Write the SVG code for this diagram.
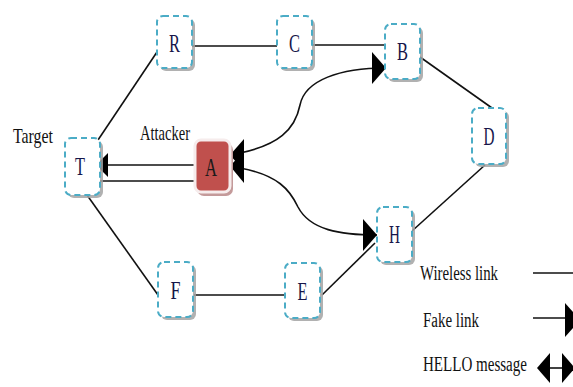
<svg xmlns="http://www.w3.org/2000/svg" width="573" height="387" viewBox="0 0 573 387">
<style>
.shadow{fill:#a3a3a3;opacity:0.85}
.node{fill:#ffffff;stroke:#4bacc6;stroke-width:2;stroke-dasharray:6 4}
.anode{fill:#c0504d;stroke:#f6ecec;stroke-width:3}
.ashadow{fill:#c49a9a}
.lbl{font-family:"Liberation Serif",serif;font-size:26px;fill:#16164a;text-anchor:middle}
.txt{font-family:"Liberation Serif",serif;font-size:22px;fill:#111111}
.leg{font-family:"Liberation Serif",serif;font-size:20px;fill:#111111}
.link{stroke:#111111;stroke-width:1.6;fill:none}
.ah{fill:#000000}
</style>
<defs>
<marker id="arr" markerUnits="userSpaceOnUse" markerWidth="14" markerHeight="32" refX="14" refY="16" orient="auto" viewBox="0 0 14 32">
<path d="M0,0 L14,16 L0,32 Z" fill="#000"/>
</marker>
<marker id="arrS" markerUnits="userSpaceOnUse" markerWidth="12" markerHeight="24" refX="12" refY="12" orient="auto" viewBox="0 0 12 24">
<path d="M0,0 L12,12 L0,24 Z" fill="#000"/>
</marker>
</defs>

<g id="connectors">
<line class="link" x1="98" y1="140" x2="157" y2="52"/>
<line class="link" x1="192" y1="46" x2="277" y2="46"/>
<line class="link" x1="312" y1="45" x2="385" y2="45"/>
<line class="link" x1="420" y1="57" x2="492" y2="108"/>
<line class="link" x1="485" y1="165" x2="412" y2="231"/>
<line class="link" x1="322" y1="295" x2="375" y2="243"/>
<line class="link" x1="194" y1="295" x2="285" y2="295"/>
<line class="link" x1="87" y1="195" x2="158" y2="295"/>
<line class="link" x1="195" y1="165" x2="96" y2="165" marker-end="url(#arrS)"/>
<line class="link" x1="195" y1="181" x2="100" y2="181"/>
<path class="link" d="M240,153 C278,145 295,130 300,105 C305,80 340,68 386,68" marker-end="url(#arr)"/>
<path class="link" d="M240,168 C278,175 290,190 298,207 C310,230 340,235 377,235" marker-end="url(#arr)"/>
<polygon class="ah" points="230,155 244,139 244,171"/>
<polygon class="ah" points="230,166 244,151 244,183"/>
</g>

<g id="R"><rect class="shadow" x="160" y="19" width="35" height="52" rx="6"/><rect class="node" x="157" y="16" width="35" height="52" rx="6"/><text class="lbl" x="174.5" y="52" textLength="11" lengthAdjust="spacingAndGlyphs">R</text></g>
<g id="C"><rect class="shadow" x="280" y="19" width="35" height="52" rx="6"/><rect class="node" x="277" y="16" width="35" height="52" rx="6"/><text class="lbl" x="294.5" y="52" textLength="11" lengthAdjust="spacingAndGlyphs">C</text></g>
<g id="B"><rect class="shadow" x="388" y="27" width="35" height="55" rx="6"/><rect class="node" x="385" y="24" width="35" height="55" rx="6"/><text class="lbl" x="402.5" y="60" textLength="11" lengthAdjust="spacingAndGlyphs">B</text></g>
<g id="D"><rect class="shadow" x="475" y="111" width="34" height="56" rx="6"/><rect class="node" x="472" y="108" width="34" height="56" rx="6"/><text class="lbl" x="489" y="145" textLength="11" lengthAdjust="spacingAndGlyphs">D</text></g>
<g id="H"><rect class="shadow" x="380" y="210" width="35" height="55" rx="6"/><rect class="node" x="377" y="207" width="35" height="55" rx="6"/><text class="lbl" x="394.5" y="243" textLength="11" lengthAdjust="spacingAndGlyphs">H</text></g>
<g id="E"><rect class="shadow" x="288" y="266" width="35" height="55" rx="6"/><rect class="node" x="285" y="263" width="35" height="55" rx="6"/><text class="lbl" x="302.5" y="300" textLength="10" lengthAdjust="spacingAndGlyphs">E</text></g>
<g id="F"><rect class="shadow" x="161" y="265" width="35" height="55" rx="6"/><rect class="node" x="158" y="262" width="35" height="55" rx="6"/><text class="lbl" x="175.5" y="299" textLength="10" lengthAdjust="spacingAndGlyphs">F</text></g>
<g id="T"><rect class="shadow" x="68" y="141" width="35" height="57" rx="6"/><rect class="node" x="65" y="138" width="35" height="57" rx="6"/><text class="lbl" x="80" y="175" textLength="10" lengthAdjust="spacingAndGlyphs">T</text></g>
<g id="A"><rect class="ashadow" x="197" y="143" width="36" height="53" rx="7"/><rect class="anode" x="195" y="140" width="35" height="52" rx="6"/><text class="lbl" x="211" y="176" textLength="12" lengthAdjust="spacingAndGlyphs" style="fill:#1a1a1a">A</text></g>

<g id="labels">
<text class="txt" x="13" y="143" textLength="40" lengthAdjust="spacingAndGlyphs">Target</text>
<text class="txt" x="140" y="140" textLength="50" lengthAdjust="spacingAndGlyphs">Attacker</text>
</g>

<g id="legend">
<text class="leg" x="420" y="280" textLength="78" lengthAdjust="spacingAndGlyphs">Wireless link</text>
<text class="leg" x="423" y="327" textLength="56" lengthAdjust="spacingAndGlyphs">Fake link</text>
<text class="leg" x="423" y="371" textLength="104" lengthAdjust="spacingAndGlyphs">HELLO message</text>
<line class="link" x1="533" y1="273" x2="573" y2="273"/>
<line class="link" x1="533" y1="318" x2="566" y2="318"/>
<polygon class="ah" points="565,303 580,320 565,337"/>
<line class="link" x1="548" y1="368" x2="564" y2="368"/>
<polygon class="ah" points="550,353 537,368 550,383"/>
<polygon class="ah" points="562,353 575,368 562,383"/>
</g>
</svg>
